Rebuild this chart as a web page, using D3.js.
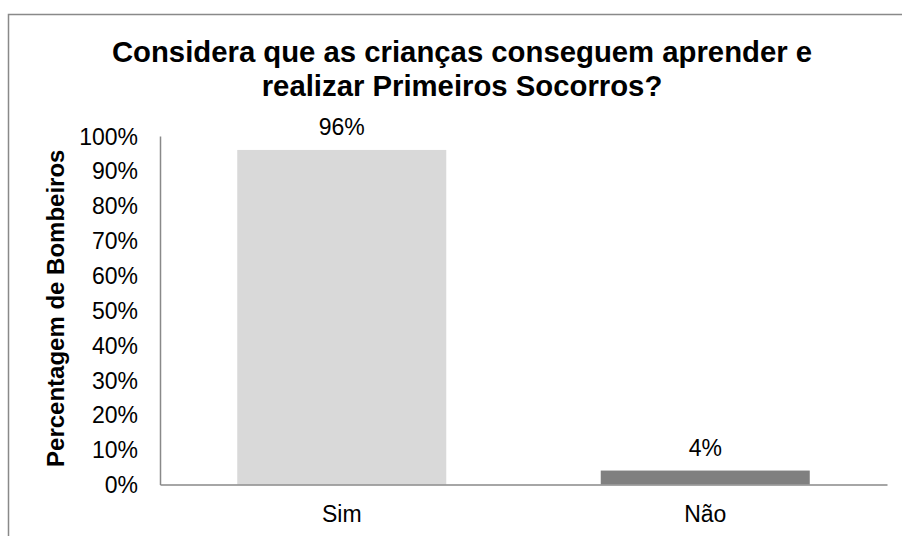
<!DOCTYPE html>
<html>
<head>
<meta charset="utf-8">
<script src="https://cdn.jsdelivr.net/npm/d3@7"></script>
<style>
    body { margin: 0; background: #fff; }
    svg text { font-family: "Liberation Sans", Arial, sans-serif; fill: #000; }
</style>
</head>
<body>
<svg id="chart" width="902" height="536"></svg>
<script>
const categories = ['Sim', 'Não'];
const values = [0.96, 0.04];
const barColors = ['#d9d9d9', '#808080'];
const yTicks = [0, 0.1, 0.2, 0.3, 0.4, 0.5, 0.6, 0.7, 0.8, 0.9, 1.0];
const titleLines = ['Considera que as crianças conseguem aprender e', 'realizar Primeiros Socorros?'];
const yTitle = 'Percentagem de Bombeiros';

let svg = d3.select('#chart');
let margin = {left: 160, right: 15, top: 136, bottom: 51.5};
let width = +svg.attr('width'), height = +svg.attr('height');

// chart frame (runs off the right and bottom of the picture)
svg.append('rect')
    .attr('x', 8.5).attr('y', 14.5)
    .attr('width', 1000).attr('height', 1000)
    .attr('fill', 'none').attr('stroke', '#898989').attr('stroke-width', 1.5);

let x = d3.scaleBand()
    .domain(categories)
    .range([margin.left, width - margin.right])
    .paddingInner(0.425)
    .paddingOuter(0.2125);

let y = d3.scaleLinear()
    .domain([0, 1])
    .range([height - margin.bottom, margin.top]);

// title
svg.append('g').selectAll('text')
    .data(titleLines)
    .enter().append('text')
    .attr('x', 462)
    .attr('y', function (d, i) { return 62 + i * 34; })
    .attr('text-anchor', 'middle')
    .style('font-size', '29.3px')
    .style('font-weight', 'bold')
    .text(function (d) { return d; });

// bars
svg.append('g').selectAll('rect')
    .data(values)
    .enter().append('rect')
    .attr('x', function (d, i) { return x(categories[i]); })
    .attr('y', function (d) { return y(d); })
    .attr('width', x.bandwidth())
    .attr('height', function (d) { return y(0) - y(d); })
    .attr('fill', function (d, i) { return barColors[i]; });

// value labels
svg.append('g').selectAll('text')
    .data(values)
    .enter().append('text')
    .attr('x', function (d, i) { return x(categories[i]) + x.bandwidth() / 2; })
    .attr('y', function (d) { return y(d) - 15; })
    .attr('text-anchor', 'middle')
    .style('font-size', '23px')
    .text(function (d) { return Math.round(d * 100) + '%'; });

// y axis
let yAxis = svg.append('g')
    .attr('transform', 'translate(' + margin.left + ',0)')
    .call(d3.axisLeft(y).tickValues(yTicks).tickFormat(d3.format('.0%')).tickSize(0).tickPadding(22));
yAxis.select('.domain').attr('stroke', '#898989').attr('stroke-width', 1.5);
yAxis.selectAll('text').style('font-size', '23px').attr('dy', '0.35em');

// x axis
let xAxis = svg.append('g')
    .attr('transform', 'translate(0,' + y(0) + ')')
    .call(d3.axisBottom(x).tickSize(0).tickPadding(0));
xAxis.select('.domain').attr('stroke', '#898989').attr('stroke-width', 1.5);
xAxis.selectAll('text').style('font-size', '23px').attr('dy', null).attr('y', 37.5);

// y axis title
svg.append('text')
    .attr('transform', 'translate(64,' + (y(0.5) - 2) + ') rotate(-90)')
    .attr('text-anchor', 'middle')
    .style('font-size', '24px')
    .style('font-weight', 'bold')
    .text(yTitle);
</script>
</body>
</html>
